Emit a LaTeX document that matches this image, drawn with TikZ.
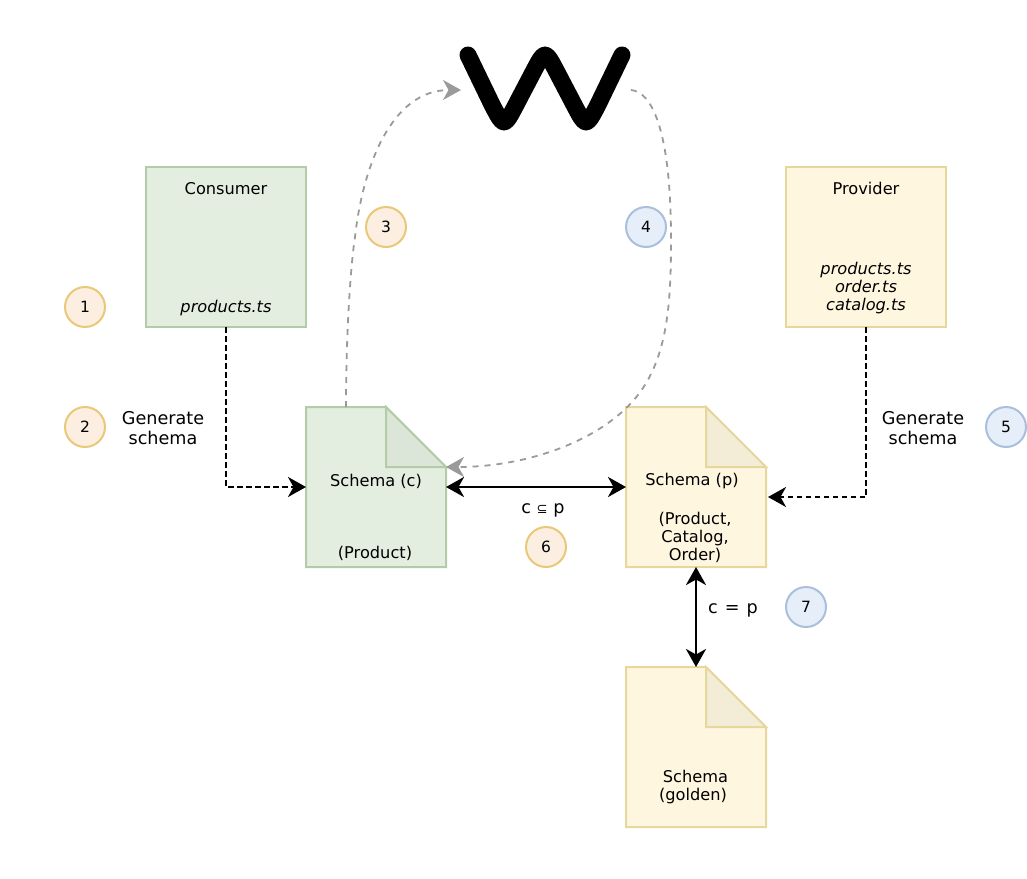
\documentclass[tikz,border=0pt]{standalone}
\usepackage{fontspec}
\setmainfont{DejaVu Sans}
\usetikzlibrary{arrows.meta}
\definecolor{greenfill}{HTML}{E3EEE0}
\definecolor{greenline}{HTML}{B3CBA6}
\definecolor{greenfold}{HTML}{DBE6D8}
\definecolor{yellowfill}{HTML}{FFF6E0}
\definecolor{yellowline}{HTML}{E6D79C}
\definecolor{yellowfold}{HTML}{F3ECD6}
\definecolor{orangefill}{HTML}{FCEFE1}
\definecolor{orangeline}{HTML}{E9C878}
\definecolor{bluefill}{HTML}{E6EEFA}
\definecolor{blueline}{HTML}{A9BFDB}
\definecolor{flowgray}{HTML}{9A9A9A}
\newcommand{\docoutline}[4]{%
  \draw[line width=2pt,line join=miter,draw=#3,fill=#2]
    (#1.north west) -- ([xshift=80pt]#1.north west) -- ([yshift=-60pt]#1.north east)
    -- (#1.south east) -- (#1.south west) -- cycle;
  \draw[line width=2pt,line join=miter,draw=#3,fill=#4]
    ([xshift=80pt]#1.north west) -- ([yshift=-60pt]#1.north east)
    -- ([xshift=80pt,yshift=-60pt]#1.north west) -- cycle;
}
\tikzset{
  box/.style={draw,line width=2pt,minimum width=160pt,minimum height=160pt,inner sep=0pt,outer sep=0pt},
  docbox/.style={minimum width=140pt,minimum height=160pt,inner sep=0pt,outer sep=0pt},
  badge/.style={circle,draw,line width=2pt,minimum size=40pt,inner sep=0pt,outer sep=0pt,font=\fontsize{15.5}{17}\selectfont},
  orangebadge/.style={badge,draw=orangeline,fill=orangefill},
  bluebadge/.style={badge,draw=blueline,fill=bluefill},
  txt/.style={inner sep=0pt,outer sep=0pt,align=center,font=\fontsize{16.2}{18}\selectfont},
  bigtxt/.style={inner sep=0pt,outer sep=0pt,align=center,font=\fontsize{17.6}{19.6}\selectfont},
  solidflow/.style={line width=2.8pt,{Stealth[length=18pt,width=20pt,inset=5.5pt]}-{Stealth[length=18pt,width=20pt,inset=5.5pt]}},
  dashflow/.style={line width=2.3pt,dash pattern=on 5.5pt off 3.5pt,-{Stealth[length=18pt,width=20pt,inset=5.5pt]}},
  grayflow/.style={line width=1.8pt,draw=flowgray,dash pattern=on 6pt off 6pt,-{Stealth[length=18pt,width=20pt,inset=5.5pt,fill=flowgray]}},
}
\begin{document}
\begin{tikzpicture}[x=1pt,y=-1pt]
\useasboundingbox (0,0) rectangle (1027,878);
% boxes
\node[box,draw=greenline,fill=greenfill] (consumer) at (226,247) {};
\node[box,draw=yellowline,fill=yellowfill] (provider) at (866,247) {};
\node[docbox] (schemac) at (376,487) {};
\node[docbox] (schemap) at (696,487) {};
\node[docbox] (golden) at (696,747) {};
\docoutline{schemac}{greenfill}{greenline}{greenfold}
\docoutline{schemap}{yellowfill}{yellowline}{yellowfold}
\docoutline{golden}{yellowfill}{yellowline}{yellowfold}
% W logo
\node[minimum width=170pt,minimum height=80pt,inner sep=0pt,outer sep=0pt] (wlogo) at (546,90) {};
\draw[line width=17pt,line cap=round,line join=round]
  (468,55) -- (492.4,105.5) .. controls (504,127.5) and (504,127.5) .. (515.6,105.5)
  -- (533.4,71.5) .. controls (545,49.5) and (545,49.5) .. (556.6,71.5)
  -- (574.4,105.5) .. controls (586,127.5) and (586,127.5) .. (597.6,105.5)
  -- (622,55);
% box texts
\node[txt] (consumertitle) at (226,188.5) {Consumer};
\node[txt] (consumerfile) at (226,308) {\itshape products.ts};
\node[txt] (providertitle) at (866,188.5) {Provider};
\node[txt] (providerfiles) at (866,288) {\itshape products.ts\\\itshape order.ts\\\itshape catalog.ts};
\node[txt] (schemactitle) at (376,481.5) {Schema (c)};
\node[txt] (schemacbody) at (375,553.5) {(Product)};
\node[txt] (schemaptitle) at (692,481.5) {Schema (p)};
\node[txt] (schemapbody) at (695,537) {(Product,\\Catalog,\\Order)};
\node[txt] (goldentext) at (693,787.5) {\hspace*{5pt}Schema\\(golden)};
\node[bigtxt] (genleft) at (163,428) {Generate\\schema};
\node[bigtxt] (genright) at (923,428) {Generate\\schema};
\node[bigtxt] (subset) at (543,510.5) {c \scalebox{0.75}{⊆} p};
\node[bigtxt] (equal) at (733,610.5) {c\hspace{7pt}=\hspace{7pt}p};
% badges
\node[orangebadge] (b1) at (85,307) {1};
\node[orangebadge] (b2) at (85,427) {2};
\node[orangebadge] (b3) at (386,227) {3};
\node[bluebadge] (b4) at (646,227) {4};
\node[bluebadge] (b5) at (1006,427) {5};
\node[orangebadge] (b6) at (546,547) {6};
\node[bluebadge] (b7) at (806,607) {7};
% connectors
\draw[dashflow] (consumer.south) |- (schemac.west);
\draw[dashflow] (provider.south) |- ([xshift=2pt,yshift=-10pt]schemap.east);
\draw[solidflow] (schemac.east) -- (schemap.west);
\draw[solidflow] (schemap.south) -- (golden.north);
\draw[grayflow] ([xshift=-30pt]schemac.north) .. controls (346,340) and (350,270) .. (355,237)
  .. controls (363,165) and (392,90) .. (wlogo.west);
\draw[grayflow] (wlogo.east) .. controls (652,92) and (671,130) .. (671,240)
  .. controls (671,300) and (668,350) .. (643,388)
  .. controls (610,438) and (530,467) .. ([yshift=20pt]schemac.east);
\end{tikzpicture}
\end{document}
